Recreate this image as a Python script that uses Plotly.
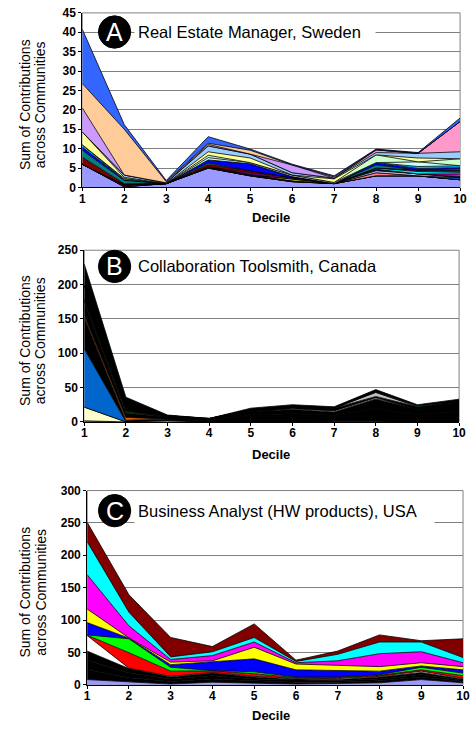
import plotly.graph_objects as go

deciles = list(range(1, 11))
tick_labels = [str(d) for d in deciles]

# ---- Panel A: Real Estate Manager, Sweden (bottom layer first) ----
a_values = [
    [6, 0.2, 1, 5, 3, 1.5, 1, 3, 3, 2],
    [0, 0, 0, 0, 0, 0, 0, 0, 0, 0],
    [0, 0, 0, 0, 0, 0, 0, 0, 0, 0],
    [0, 0, 0, 0, 0, 0, 0, 0, 0, 0],
    [0, 0.5, 0, 0.3, 0.3, 0.2, 0, 0, 0, 0],
    [0, 0, 0, 0, 0, 0, 0, 0.8, 0, 0],
    [0, 0, 0, 0, 0, 0, 0, 0, 0, 0.5],
    [0, 0, 0, 0, 0, 0, 0, 0.5, 0.5, 0],
    [0, 0, 0, 0, 0, 0, 0, 0.4, 0, 0.3],
    [0, 0, 0, 0, 0, 0, 0, 0, 0, 0.7],
    [0, 0, 0, 0, 0, 0.4, 0, 0, 0, 0],
    [0, 0, 0, 0, 0, 0, 0, 0.3, 0.6, 0.4],
    [0, 0, 0, 0, 0.5, 0.4, 0, 0, 0.4, 0.5],
    [1.8, 0.3, 0, 0.6, 0.5, 0, 0, 0, 0, 0],
    [1.8, 0.8, 0, 0.4, 0, 0, 0, 0.8, 0, 0.4],
    [0.8, 0.2, 0, 0.8, 1.8, 0.3, 0, 0.6, 0.4, 0.3],
    [0.6, 0, 0, 0, 0, 0, 0, 0, 0.5, 0.5],
    [0, 0.3, 0, 0.6, 0.3, 0.4, 0.3, 0, 1.2, 0],
    [0, 0, 0, 0.6, 0, 0, 0, 2.0, 0, 1.8],
    [3.3, 0.3, 0, 0.9, 1.2, 0, 0.9, 0, 1, 0],
    [0, 0.6, 0.2, 1.5, 1.0, 0.6, 0.2, 0.6, 1.2, 1.8],
    [0, 0, 0, 0, 0, 0, 0, 0.7, 0, 7.8],
    [6.2, 0, 0, 0.4, 0, 2.0, 0, 0, 0, 0],
    [6.3, 11.8, 0.3, 0.3, 1.0, 0, 0.3, 0, 0, 0],
    [14, 1.2, 0.3, 1.7, 0.3, 0.2, 0.3, 0.2, 0.2, 0.9],
]
a_fill = [
    "#9999FF", "#993366", "#FFFFCC", "#CCFFFF", "#660066", "#FF8080",
    "#0066CC", "#CCCCFF", "#000080", "#FF00FF", "#FFFF00", "#00FFFF",
    "#800080", "#800000", "#008080", "#0000FF", "#00CCFF", "#CCFFFF",
    "#CCFFCC", "#FFFF99", "#99CCFF", "#FF99CC", "#CC99FF", "#FFCC99",
    "#3366FF",
]

# ---- Panel B: Collaboration Toolsmith, Canada ----
b_values = [
    [1.5, 0, 0, 0, 0, 0, 0, 0, 0, 0],
    [0, 0, 0, 0, 0, 0, 1.5, 1.5, 0, 0],
    [20, 0, 0, 0, 0, 0, 0, 0, 0, 0],
    [0, 0, 2, 0, 0, 0, 0, 0, 0, 0],
    [85, 0.5, 0, 0, 0, 0, 0, 0, 0, 0],
    [46, 2, 2, 2, 10, 12, 8, 18, 10, 16],
    [3, 4, 0, 0, 0, 0, 0, 0, 0, 0],
    [20, 6, 3, 2, 5, 6, 5, 14, 8, 10],
    [3, 4, 0, 0, 0, 0, 0, 0, 0, 0],
    [0, 0, 0, 0, 0, 1, 1.5, 1.5, 0, 0],
    [20, 8, 2, 1, 3, 4, 4, 2, 4, 3],
    [0, 0, 0, 0, 0, 0, 0, 6, 0, 0],
    [0, 0, 0, 0, 0, 0, 0, 0, 1, 0],
    [31.5, 11.5, 1, 0, 2, 2, 2, 4, 2, 4],
]
b_fill = [
    "#9999FF", "#FF8080", "#FFFFCC", "#CCFFCC", "#0066CC", "#000000",
    "#FF6600", "#000000", "#003300", "#FFFFFF", "#000000", "#C0C0C0",
    "#00FFFF", "#000000",
]

# ---- Panel C: Business Analyst (HW products), USA ----
c_values = [
    [8, 4, 1, 4, 2, 1, 2, 3, 8, 3],
    [15, 7, 4, 5, 4, 3, 2, 3, 4, 2],
    [15, 7, 4, 5, 3, 3, 2, 3, 4, 2],
    [14, 7, 3, 4, 3, 2, 2, 3, 3, 2],
    [24, 0.5, 1, 1, 1, 1, 1.5, 1, 2, 1],
    [0.5, 24, 8, 2.5, 4, 1, 1.5, 1.5, 2, 4],
    [0.5, 21.5, 6, 0.5, 3, 1, 1, 1, 4, 4],
    [19, 1, 4, 13, 20, 11, 9.7, 5.5, 2, 5],
    [21, 0.5, 4, 2, 18, 9, 8.3, 7, 5, 5],
    [53, 18.5, 4, 8, 8, 2, 7, 20, 17, 6],
    [51, 21, 4, 6, 7, 2, 10, 18, 15, 8],
    [30, 27, 30, 8, 21, 2, 5, 11, 2, 29],
]
c_fill = [
    "#9999FF", "#000000", "#000000", "#000000", "#FFFFFF", "#FF0000",
    "#00FF00", "#0000FF", "#FFFF00", "#FF00FF", "#00FFFF", "#800000",
]

titles = ["Real Estate Manager, Sweden", "Collaboration Toolsmith, Canada",
          "Business Analyst (HW products), USA"]
badges = ["A", "B", "C"]
y_ranges = [45, 250, 300]
y_steps = [5, 50, 50]

W, H = 471, 730
FONT = "Liberation Sans, Arial, sans-serif"


def px_x(v):
    return v / W


def px_y(v):
    return 1 - v / H


# plot-area pixel boxes: left, right, top, bottom
boxes = [(81, 467, 6, 184), (83, 466, 248, 423), (86, 470, 493, 691)]

fig = go.Figure()
panels = [(a_values, a_fill), (b_values, b_fill), (c_values, c_fill)]
for i, (vals, fills) in enumerate(panels):
    xa = "x" if i == 0 else f"x{i+1}"
    ya = "y" if i == 0 else f"y{i+1}"
    for v, c in zip(vals, fills):
        fig.add_trace(go.Scatter(
            x=deciles, y=v, xaxis=xa, yaxis=ya, mode="lines",
            stackgroup=f"s{i}", fillcolor=c,
            line=dict(color="black", width=0.8),
            showlegend=False, hoverinfo="skip",
        ))

layout = dict(
    width=W, height=H, margin=dict(l=0, r=0, t=0, b=0),
    paper_bgcolor="white", plot_bgcolor="white",
    font=dict(family=FONT, color="black"),
    showlegend=False,
)

shapes = []
annotations = []
for i, (l, r, t, b) in enumerate(boxes):
    sx = "" if i == 0 else str(i + 1)
    layout[f"xaxis{sx}"] = dict(
        domain=[px_x(l), px_x(r)], anchor=f"y{sx}", range=[1, 10],
        tickvals=deciles, ticktext=tick_labels, showgrid=False,
        showline=True, linecolor="black", linewidth=1,
        ticks="outside", ticklen=3, tickcolor="black",
        ticklabeloverflow="allow", ticklabelstandoff=-3,
        tickfont=dict(size=12, family=FONT, weight="bold"), zeroline=False,
    )
    layout[f"yaxis{sx}"] = dict(
        domain=[px_y(b), px_y(t)], anchor=f"x{sx}", range=[0, y_ranges[i]],
        dtick=y_steps[i], showgrid=True, gridcolor="#808080", gridwidth=1,
        showline=True, linecolor="black", linewidth=1,
        ticks="outside", ticklen=3, tickcolor="black",
        ticklabeloverflow="allow",
        tickfont=dict(size=12, family=FONT, weight="bold"), zeroline=False,
    )
    # plot-area frame
    shapes.append(dict(type="rect", xref="paper", yref="paper",
                       x0=px_x(l), x1=px_x(r), y0=px_y(b), y1=px_y(t),
                       line=dict(color="#808080", width=1), layer="below"))
    # y-axis title, two rotated lines
    ymid = (t + b) / 2 + 5
    for lx, txt in ((22.5, "Sum of Contributions"), (38, "across Communities")):
        annotations.append(dict(
            xref="paper", yref="paper", x=px_x(lx), y=px_y(ymid),
            xanchor="center", yanchor="middle", text=txt, textangle=-90,
            showarrow=False, font=dict(size=14, family=FONT)))
    # x-axis title
    dec_y = [215, 456, 722][i]
    annotations.append(dict(
        xref="paper", yref="paper", x=px_x(274), y=px_y(dec_y),
        xanchor="center", yanchor="middle",
        text="Decile", showarrow=False,
        font=dict(size=13, family=FONT, weight="bold")))

# badge circles with letters and panel titles
badge_cy = [25.5, 264.5, 513.5]
box_w = [234, 250, 293]
for i in range(3):
    cy = badge_cy[i]
    shapes.append(dict(type="circle", xref="paper", yref="paper",
                       x0=px_x(97.5), x1=px_x(130.5),
                       y0=px_y(cy + 16.5), y1=px_y(cy - 16.5),
                       fillcolor="black", line=dict(color="black", width=1),
                       layer="above"))
    annotations.append(dict(
        xref="paper", yref="paper", x=px_x(114), y=px_y(cy),
        text=badges[i], showarrow=False, xanchor="center", yanchor="middle",
        font=dict(size=25, color="white", family=FONT)))
    annotations.append(dict(
        xref="paper", yref="paper", x=px_x(134), y=px_y(cy),
        text=titles[i], showarrow=False, xanchor="left", yanchor="middle",
        align="left", width=box_w[i], bgcolor="white", borderpad=3,
        font=dict(size=16.5, family=FONT)))

layout["shapes"] = shapes
layout["annotations"] = annotations
fig.update_layout(**layout)
fig.write_html("out.html")
